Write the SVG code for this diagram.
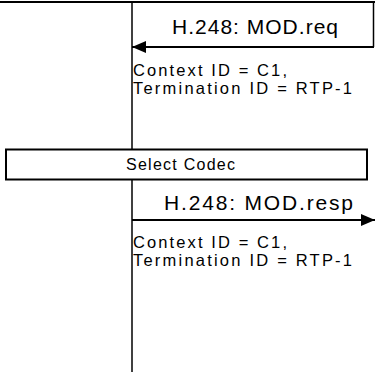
<svg xmlns="http://www.w3.org/2000/svg" width="375" height="372" viewBox="0 0 375 372">
<defs>
<style>
.t{font-family:"Liberation Sans",Arial,sans-serif;fill:#000}
.life{stroke:#000;stroke-width:1.5;fill:none}
.msg{stroke:#000;stroke-width:2.2;fill:none}
.box{fill:#fff;stroke:#000;stroke-width:2}
</style>
<marker id="ah" viewBox="0 0 14 12" refX="14" refY="6" markerWidth="14" markerHeight="12" markerUnits="userSpaceOnUse" orient="auto">
<path d="M0,0 L14,6 L0,12 Z" fill="#000"/>
</marker>
</defs>
<g id="top-box">
<rect class="box" x="-5" y="-20" width="385" height="22"/>
</g>
<g id="lifelines">
<line class="life" x1="132" y1="2" x2="132" y2="372"/>
<line class="life" x1="373.5" y1="2" x2="373.5" y2="47"/>
</g>
<g id="select-codec">
<rect class="box" x="6" y="149.5" width="361" height="30"/>
<text class="t" x="126" y="169.5" font-size="16" textLength="109" lengthAdjust="spacing">Select Codec</text>
</g>
<g id="connectors">
<line class="msg" x1="374" y1="47" x2="132" y2="47" marker-end="url(#ah)"/>
<line class="msg" x1="132" y1="220" x2="375" y2="220" marker-end="url(#ah)"/>
</g>
<g id="msg1-labels">
<text class="t" x="172" y="33.5" font-size="21" textLength="166" lengthAdjust="spacing">H.248: MOD.req</text>
<text class="t" x="133" y="75.5" font-size="16.5" textLength="154" lengthAdjust="spacing">Context ID = C1,</text>
<text class="t" x="133" y="93.5" font-size="16.5" textLength="219" lengthAdjust="spacing">Termination ID = RTP-1</text>
</g>
<g id="msg2-labels">
<text class="t" x="164" y="209.5" font-size="21" textLength="189" lengthAdjust="spacing">H.248: MOD.resp</text>
<text class="t" x="133" y="247.5" font-size="16.5" textLength="154" lengthAdjust="spacing">Context ID = C1,</text>
<text class="t" x="133" y="265.5" font-size="16.5" textLength="219" lengthAdjust="spacing">Termination ID = RTP-1</text>
</g>
</svg>
